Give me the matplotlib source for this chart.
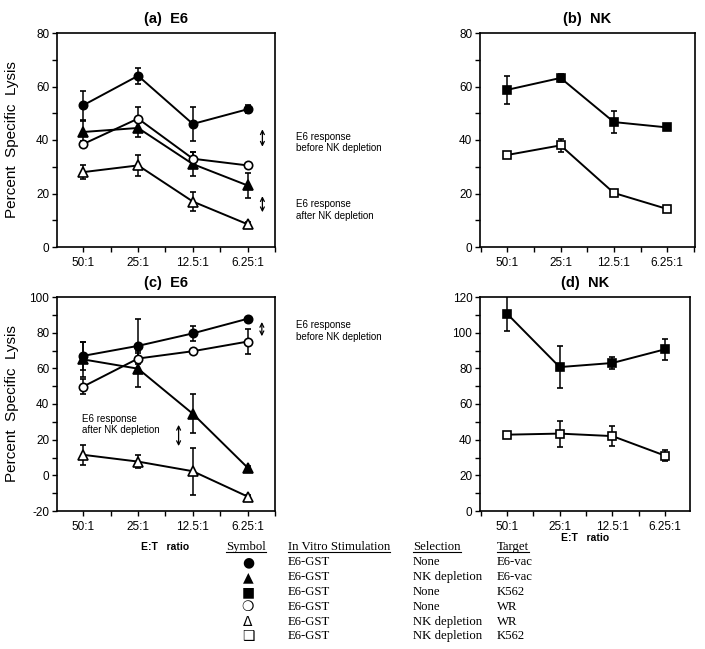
import matplotlib
matplotlib.use("Agg")
import matplotlib.pyplot as plt
import matplotlib.ticker as mticker
from matplotlib.lines import Line2D

plt.rcParams["font.family"] = ["Liberation Sans", "DejaVu Sans"]
plt.rcParams["axes.unicode_minus"] = False

# ── data ──────────────────────────────────────────────────────
ratios = ["50:1", "25:1", "12.5:1", "6.25:1"]

# (a) E6
a_e6vac = [53, 64, 46, 51.5]
a_e6vac_err = [5.5, 3, 6.5, 1.5]
a_e6vac_nk = [43, 44.5, 31, 23]
a_e6vac_nk_err = [4, 3.5, 4.5, 4.5]
a_wr = [38.5, 48, 33, 30.5]
a_wr_err = [1, 4.5, 2.5, 1]
a_wr_nk = [28, 30.5, 17, 8.5]
a_wr_nk_err = [2.5, 4, 3.5, 1]

# (b) NK
b_k562 = [58.75, 63.2, 46.7, 44.7]
b_k562_err = [5.3, 1.5, 4, 1]
b_k562_nk = [34.4, 38, 20.2, 14.2]
b_k562_nk_err = [1, 2.5, 0.8, 0.8]

# (c) E6
c_e6vac = [67, 72.6, 79.6, 87.8]
c_e6vac_err = [8, 15, 4.2, 1]
c_e6vac_nk = [65, 59.8, 34.5, 4.3]
c_e6vac_nk_err = [10, 10, 11, 1]
c_wr = [49.8, 65.5, 69.6, 75]
c_wr_err = [4.2, 3, 1, 6.8]
c_wr_nk = [11.5, 7.7, 2.3, -11.9]
c_wr_nk_err = [5.7, 3.7, 13.3, 1]

# (d) NK
d_k562 = [110.7, 80.7, 83, 90.7]
d_k562_err = [10, 11.6, 3.3, 6]
d_k562_nk = [42.8, 43.4, 42, 31]
d_k562_nk_err = [1.2, 7.3, 5.5, 3]

# legend table
leg_symbols = ["●", "▲", "■", "❍", "Δ", "❑"]
leg_stim = ["E6-GST"] * 6
leg_sel = ["None", "NK depletion", "None", "None", "NK depletion", "NK depletion"]
leg_target = ["E6-vac", "E6-vac", "K562", "WR", "WR", "K562"]

W, H = 705, 649
fig = plt.figure(figsize=(W / 100, H / 100), dpi=100)


def px_axes(left, top, right, bottom):
    return fig.add_axes([left / W, 1 - bottom / H, (right - left) / W, (bottom - top) / H])


def series(ax, y, err, marker, filled):
    x = list(range(len(y)))
    ax.errorbar(x, y, yerr=err, color="black", lw=1.4, marker=marker,
                ms=6 if marker != "^" else 6.5, mec="black", mew=1.2,
                mfc="black" if filled else "white",
                elinewidth=1.1, capsize=2.5, capthick=1.1, zorder=3)


def style(ax, title, ylim, ystep, xlim):
    ax.set_xlim(*xlim)
    ax.set_ylim(*ylim)
    ax.set_xticks(range(4))
    ax.set_xticklabels(ratios, fontsize=8)
    ax.xaxis.set_minor_locator(mticker.FixedLocator([-0.5, 0.5, 1.5, 2.5, 3.5]))
    ax.yaxis.set_major_locator(mticker.MultipleLocator(ystep))
    ax.yaxis.set_minor_locator(mticker.MultipleLocator(ystep / 2))
    ax.tick_params(axis="both", which="both", direction="out", length=3.5, width=1, labelsize=8.5)
    ax.tick_params(axis="x", pad=3.5)
    ax.tick_params(axis="y", pad=2)
    for s in ax.spines.values():
        s.set_linewidth(1.2)
    ax.set_title(title, fontsize=10.5, fontweight="bold", pad=7)


def arrow(ax, x, y0, y1):
    ax.annotate("", xy=(x, y0), xytext=(x, y1),
                arrowprops=dict(arrowstyle="<->", lw=0.9, color="black",
                                mutation_scale=7, shrinkA=0, shrinkB=0))


# ── (a) ───────────────────────────────────────────────────────
ax_a = px_axes(57, 33, 275, 247)
series(ax_a, a_e6vac, a_e6vac_err, "o", True)
series(ax_a, a_e6vac_nk, a_e6vac_nk_err, "^", True)
series(ax_a, a_wr, a_wr_err, "o", False)
series(ax_a, a_wr_nk, a_wr_nk_err, "^", False)
style(ax_a, "(a)  E6", (0, 80), 20, (-0.48, 3.5))
arrow(ax_a, 3.27, 44, 37.5)
arrow(ax_a, 3.27, 19, 13)
ax_a.set_ylabel("Percent  Specific  Lysis", fontsize=11)
ax_a.yaxis.set_label_coords(-0.175, 0.5)

# ── (b) ───────────────────────────────────────────────────────
ax_b = px_axes(480, 33, 695, 247)
series(ax_b, b_k562, b_k562_err, "s", True)
series(ax_b, b_k562_nk, b_k562_nk_err, "s", False)
style(ax_b, "(b)  NK", (0, 80), 20, (-0.51, 3.52))

# ── (c) ───────────────────────────────────────────────────────
ax_c = px_axes(57, 297, 275, 511)
series(ax_c, c_e6vac, c_e6vac_err, "o", True)
series(ax_c, c_e6vac_nk, c_e6vac_nk_err, "^", True)
series(ax_c, c_wr, c_wr_err, "o", False)
series(ax_c, c_wr_nk, c_wr_nk_err, "^", False)
style(ax_c, "(c)  E6", (-20, 100), 20, (-0.48, 3.5))
arrow(ax_c, 3.26, 86, 78)
arrow(ax_c, 1.74, 28.3, 16.4)
ax_c.text(-0.03, 28.4, "E6 response\nafter NK depletion", fontsize=7, va="center", ha="left")
ax_c.set_ylabel("Percent  Specific  Lysis", fontsize=11)
ax_c.yaxis.set_label_coords(-0.175, 0.5)

# ── (d) ───────────────────────────────────────────────────────
ax_d = px_axes(480, 297, 690, 511)
series(ax_d, d_k562, d_k562_err, "s", True)
series(ax_d, d_k562_nk, d_k562_nk_err, "s", False)
style(ax_d, "(d)  NK", (0, 120), 20, (-0.51, 3.47))

# side notes
fig.text(296 / W, 1 - 142.5 / H, "E6 response\nbefore NK depletion", fontsize=7, va="center")
fig.text(296 / W, 1 - 210 / H, "E6 response\nafter NK depletion", fontsize=7, va="center")
fig.text(296 / W, 1 - 331 / H, "E6 response\nbefore NK depletion", fontsize=7, va="center")

# axis captions
fig.text(165 / W, 1 - 547 / H, "E:T   ratio", fontsize=7.5, fontweight="bold", ha="center", va="center")
fig.text(585 / W, 1 - 538 / H, "E:T   ratio", fontsize=7.5, fontweight="bold", ha="center", va="center")

# ── legend table ──────────────────────────────────────────────
serif = ["Liberation Serif", "DejaVu Serif"]
head_y = 547
row_y = [562, 577, 592, 607, 622, 636]
headers = [(226, "Symbol"), (288, "In Vitro Stimulation"), (413, "Selection"), (497, "Target")]
head_texts = []
for x, t in headers:
    head_texts.append(fig.text(x / W, 1 - head_y / H, t, fontsize=9.2, family=serif, va="center"))

for i, y in enumerate(row_y):
    fig.text(248 / W, 1 - y / H, leg_symbols[i], fontsize=10, family=["DejaVu Sans"],
             ha="center", va="center")
    fig.text(288 / W, 1 - y / H, leg_stim[i], fontsize=9.2, family=serif, va="center")
    fig.text(413 / W, 1 - y / H, leg_sel[i], fontsize=9.2, family=serif, va="center")
    fig.text(497 / W, 1 - y / H, leg_target[i], fontsize=9.2, family=serif, va="center")

# underline the headers
fig.canvas.draw()
r = fig.canvas.get_renderer()
for t in head_texts:
    bb = t.get_window_extent(r).transformed(fig.transFigure.inverted())
    fig.add_artist(Line2D([bb.x0, bb.x1], [bb.y0 + 0.001, bb.y0 + 0.001],
                          transform=fig.transFigure, color="black", lw=0.8))

fig.savefig("out.png", dpi=100)
